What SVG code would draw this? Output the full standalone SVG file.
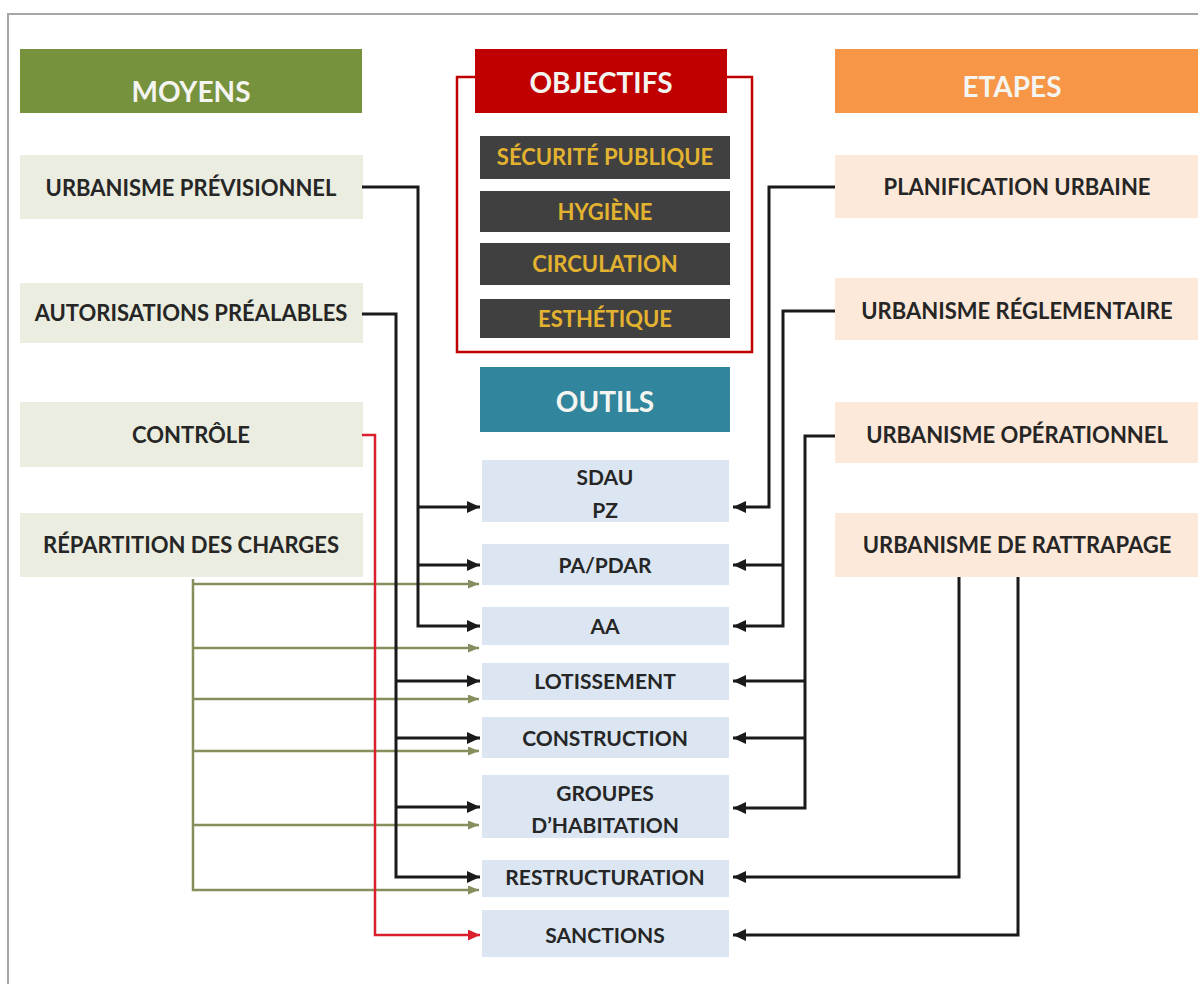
<svg xmlns="http://www.w3.org/2000/svg" width="1198" height="984" viewBox="0 0 1198 984">
<style>
text{font-family:Lato,"Open Sans","Liberation Sans",sans-serif;font-weight:bold;text-anchor:middle}
.hd{font-size:28px;fill:#f4f4f0}
.lb{font-size:22px;fill:#262626}
.tl{font-size:21px;fill:#262626}
.ob{font-size:22px;fill:#e3b330}
.moy{fill:#eaeddf}
.eta{fill:#fde9d9}
.out{fill:#dce6f2}
.dk{fill:#404040}
.blk{fill:none;stroke:#1a1a1a;stroke-width:3}
.grn{fill:none;stroke:#858e5c;stroke-width:2.5}
.red{fill:none;stroke:#d9202c;stroke-width:2.5}
</style>
<defs>
<marker id="ab" markerUnits="userSpaceOnUse" markerWidth="13" markerHeight="12" refX="13" refY="6" orient="auto"><path d="M0,0 L13,6 L0,12 z" fill="#1a1a1a"/></marker>
<marker id="ag" markerUnits="userSpaceOnUse" markerWidth="11" markerHeight="9" refX="11" refY="4.5" orient="auto"><path d="M0,0 L11,4.5 L0,9 z" fill="#858e5c"/></marker>
<marker id="ar" markerUnits="userSpaceOnUse" markerWidth="12" markerHeight="11" refX="12" refY="5.5" orient="auto"><path d="M0,0 L12,5.5 L0,11 z" fill="#d9202c"/></marker>
</defs>
<rect width="1198" height="984" fill="#ffffff"/>
<path d="M8,990 V14 H1204" fill="none" stroke="#a6a6a6" stroke-width="2"/>

<g id="moyens">
<rect x="20" y="49" width="342" height="64" fill="#76923c"/>
<text class="hd" x="191" y="102">MOYENS</text>
</g>
<g id="objectifs">
<rect x="457" y="77" width="295" height="275" fill="none" stroke="#c00000" stroke-width="2.5"/>
<rect x="475" y="49" width="252" height="64" fill="#c00000"/>
<text class="hd" x="601" y="93">OBJECTIFS</text>
</g>
<g id="etapes">
<rect x="835" y="49" width="363" height="64" fill="#f79646"/>
<text class="hd" x="1012" y="97">ETAPES</text>
</g>
<g id="obj-securite"><rect class="dk" x="480" y="136" width="250" height="43"/><text class="ob" x="605" y="165">SÉCURITÉ PUBLIQUE</text></g>
<g id="obj-hygiene"><rect class="dk" x="480" y="191" width="250" height="41"/><text class="ob" x="605" y="220">HYGIÈNE</text></g>
<g id="obj-circulation"><rect class="dk" x="480" y="243" width="250" height="42"/><text class="ob" x="605" y="272">CIRCULATION</text></g>
<g id="obj-esthetique"><rect class="dk" x="480" y="299" width="250" height="39"/><text class="ob" x="605" y="327">ESTHÉTIQUE</text></g>

<g id="outils">
<rect x="480" y="367" width="250" height="65" fill="#31859c"/>
<text class="hd" x="605" y="412">OUTILS</text>
</g>

<g id="m-previsionnel"><rect class="moy" x="20" y="155" width="343" height="64"/><text class="lb" x="191" y="196">URBANISME PRÉVISIONNEL</text></g>
<g id="m-autorisations"><rect class="moy" x="20" y="283" width="343" height="60"/><text class="lb" x="191" y="321">AUTORISATIONS PRÉALABLES</text></g>
<g id="m-controle"><rect class="moy" x="20" y="402" width="343" height="65"/><text class="lb" x="191" y="443">CONTRÔLE</text></g>
<g id="m-repartition"><rect class="moy" x="20" y="513" width="343" height="64"/><text class="lb" x="191" y="553">RÉPARTITION DES CHARGES</text></g>

<g id="e-planification"><rect class="eta" x="835" y="155" width="363" height="63"/><text class="lb" x="1017" y="195">PLANIFICATION URBAINE</text></g>
<g id="e-reglementaire"><rect class="eta" x="835" y="278" width="363" height="62"/><text class="lb" x="1017" y="319">URBANISME RÉGLEMENTAIRE</text></g>
<g id="e-operationnel"><rect class="eta" x="835" y="402" width="363" height="61"/><text class="lb" x="1017" y="443">URBANISME OPÉRATIONNEL</text></g>
<g id="e-rattrapage"><rect class="eta" x="835" y="513" width="363" height="64"/><text class="lb" x="1017" y="553">URBANISME DE RATTRAPAGE</text></g>

<g id="t-sdau"><rect class="out" x="482" y="460" width="247" height="62"/><text class="tl" x="605" y="485">SDAU</text><text class="tl" x="605" y="518">PZ</text></g>
<g id="t-pa"><rect class="out" x="482" y="544" width="247" height="41"/><text class="tl" x="605" y="573">PA/PDAR</text></g>
<g id="t-aa"><rect class="out" x="482" y="607" width="247" height="38"/><text class="tl" x="605" y="634">AA</text></g>
<g id="t-lotissement"><rect class="out" x="482" y="663" width="247" height="37"/><text class="tl" x="605" y="689">LOTISSEMENT</text></g>
<g id="t-construction"><rect class="out" x="482" y="717" width="247" height="41"/><text class="tl" x="605" y="746">CONSTRUCTION</text></g>
<g id="t-groupes"><rect class="out" x="482" y="775" width="247" height="63"/><text class="tl" x="605" y="801">GROUPES</text><text class="tl" x="605" y="833">D’HABITATION</text></g>
<g id="t-restructuration"><rect class="out" x="482" y="860" width="247" height="37"/><text class="tl" x="605" y="885">RESTRUCTURATION</text></g>
<g id="t-sanctions"><rect class="out" x="482" y="910" width="247" height="47"/><text class="tl" x="605" y="943">SANCTIONS</text></g>

<g id="connectors">
<path class="grn" d="M193,579 V890 H479" marker-end="url(#ag)"/>
<path class="grn" d="M193,584 H479" marker-end="url(#ag)"/>
<path class="grn" d="M193,648 H479" marker-end="url(#ag)"/>
<path class="grn" d="M193,699 H479" marker-end="url(#ag)"/>
<path class="grn" d="M193,751 H479" marker-end="url(#ag)"/>
<path class="grn" d="M193,825 H479" marker-end="url(#ag)"/>

<path class="red" d="M362,435 H375 V935 H480" marker-end="url(#ar)"/>

<path class="blk" d="M362,187 H418 V626 H480" marker-end="url(#ab)"/>
<path class="blk" d="M418,507 H480" marker-end="url(#ab)"/>
<path class="blk" d="M418,565 H480" marker-end="url(#ab)"/>

<path class="blk" d="M362,314 H396 V877 H480" marker-end="url(#ab)"/>
<path class="blk" d="M396,681 H480" marker-end="url(#ab)"/>
<path class="blk" d="M396,738 H480" marker-end="url(#ab)"/>
<path class="blk" d="M396,807 H480" marker-end="url(#ab)"/>

<path class="blk" d="M835,187 H769 V507 H733" marker-end="url(#ab)"/>
<path class="blk" d="M835,311 H783 V626 H733" marker-end="url(#ab)"/>
<path class="blk" d="M783,565 H733" marker-end="url(#ab)"/>
<path class="blk" d="M835,436 H805 V808 H733" marker-end="url(#ab)"/>
<path class="blk" d="M805,681 H733" marker-end="url(#ab)"/>
<path class="blk" d="M805,738 H733" marker-end="url(#ab)"/>
<path class="blk" d="M959,577 V877 H733" marker-end="url(#ab)"/>
<path class="blk" d="M1018,577 V935 H733" marker-end="url(#ab)"/>
</g>
</svg>
